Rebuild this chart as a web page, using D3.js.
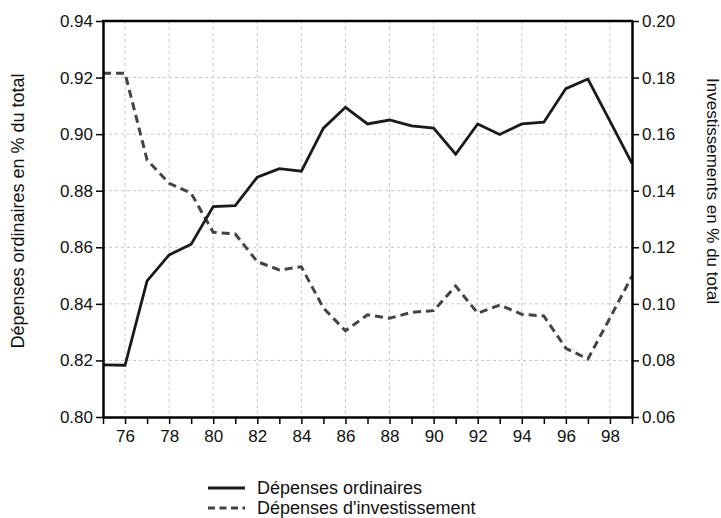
<!DOCTYPE html>
<html>
<head>
<meta charset="utf-8">
<script src="https://cdn.jsdelivr.net/npm/d3@7"></script>
<style>
  body { margin: 0; background: #fff; }
  svg { font-family: "Liberation Sans", Arial, sans-serif; }
</style>
</head>
<body>
<svg id="chart" width="721" height="518"></svg>
<script>
// years 1975..1999 (shown as two digits)
const years = d3.range(75, 100);

// Dépenses ordinaires (left axis)
const ordinaires = [0.8184, 0.8183, 0.8481, 0.8573, 0.8611, 0.8744, 0.8747, 0.8848, 0.8878, 0.8869,
  0.9021, 0.9095, 0.9036, 0.9050, 0.9029, 0.9021, 0.8929, 0.9036, 0.8999, 0.9036,
  0.9042, 0.9161, 0.9195, 0.9046, 0.8897];

// Dépenses d'investissement (right axis)
const investissement = [0.1815, 0.1815, 0.1509, 0.1426, 0.1391, 0.1253, 0.1247, 0.1149, 0.1120, 0.1131,
  0.0985, 0.0905, 0.0961, 0.0949, 0.0970, 0.0976, 0.1063, 0.0967, 0.0996, 0.0963,
  0.0957, 0.0843, 0.0805, 0.0950, 0.1098];

const leftTicks = [0.80, 0.82, 0.84, 0.86, 0.88, 0.90, 0.92, 0.94];
const rightTicks = [0.06, 0.08, 0.10, 0.12, 0.14, 0.16, 0.18, 0.20];
const gridYears = d3.range(76, 99, 2);
const legendLabels = ["Dépenses ordinaires", "Dépenses d'investissement"];

const svg = d3.select("#chart");
const plotL = 103, plotR = 632, plotT = 21, plotB = 417;

const x = d3.scaleLinear().domain([75, 99]).range([plotL, plotR]);
const yL = d3.scaleLinear().domain([0.80, 0.94]).range([plotB, plotT]);
const yR = d3.scaleLinear().domain([0.06, 0.20]).range([plotB, plotT]);

// grid
const grid = svg.append("g")
    .attr("stroke", "#c8c8c8").attr("stroke-width", 1).attr("stroke-dasharray", "3,3");
grid.selectAll(".gx").data(gridYears).enter().append("line")
    .attr("x1", d => x(d)).attr("x2", d => x(d))
    .attr("y1", plotT).attr("y2", plotB);
grid.selectAll(".gy").data(leftTicks.slice(1, -1)).enter().append("line")
    .attr("x1", plotL).attr("x2", plotR)
    .attr("y1", d => yL(d)).attr("y2", d => yL(d));

// lines
const lineOrd = d3.line().x((d, i) => x(years[i])).y(d => yL(d));
const lineInv = d3.line().x((d, i) => x(years[i])).y(d => yR(d));

svg.append("path").datum(investissement)
    .attr("d", lineInv).attr("fill", "none")
    .attr("stroke", "#444").attr("stroke-width", 3)
    .attr("stroke-dasharray", "8,5");
svg.append("path").datum(ordinaires)
    .attr("d", lineOrd).attr("fill", "none")
    .attr("stroke", "#1a1a1a").attr("stroke-width", 2.8)
    .attr("stroke-linejoin", "miter");

// axes
function styleAxis(g) {
  g.select(".domain").attr("stroke", "#000").attr("stroke-width", 2.5);
  g.selectAll(".tick line").attr("stroke", "#000").attr("stroke-width", 1.5);
  g.selectAll(".tick text").attr("fill", "#111").style("font-size", "17px");
}

svg.append("g").attr("transform", `translate(${plotL},0)`)
    .call(d3.axisLeft(yL).tickValues(leftTicks).tickFormat(d3.format(".2f"))
      .tickSize(7).tickSizeOuter(0).tickPadding(3))
    .call(styleAxis);

svg.append("g").attr("transform", `translate(${plotR},0)`)
    .call(d3.axisRight(yR).tickValues(rightTicks).tickFormat(d3.format(".2f"))
      .tickSize(7).tickSizeOuter(0).tickPadding(3))
    .call(styleAxis);

svg.append("g").attr("transform", `translate(0,${plotB})`)
    .call(d3.axisBottom(x).tickValues(years).tickFormat(d => d % 2 === 0 ? d : "")
      .tickSize(7).tickSizeOuter(0).tickPadding(6))
    .call(styleAxis);

// top frame
svg.append("line")
    .attr("x1", plotL - 1).attr("x2", plotR + 1)
    .attr("y1", plotT).attr("y2", plotT)
    .attr("stroke", "#000").attr("stroke-width", 2.5);

// axis titles
svg.append("text")
    .attr("transform", "translate(24,211) rotate(-90)")
    .attr("text-anchor", "middle").style("font-size", "18px").attr("fill", "#111")
    .text("Dépenses ordinaires en % du total");
svg.append("text")
    .attr("transform", "translate(707,191) rotate(90)")
    .attr("text-anchor", "middle").style("font-size", "17px").attr("fill", "#111")
    .text("Investissements en % du total");

// legend
const legend = svg.append("g").attr("transform", "translate(208,488)");
legendLabels.forEach((label, i) => {
  const row = legend.append("g").attr("transform", `translate(0,${i * 20})`);
  row.append("line").attr("x1", 0).attr("x2", 37).attr("y1", 0).attr("y2", 0)
      .attr("stroke", i === 0 ? "#1a1a1a" : "#444").attr("stroke-width", 3)
      .attr("stroke-dasharray", i === 0 ? null : "7,4.5");
  row.append("text").attr("x", 49).attr("y", 6)
      .style("font-size", "18px").attr("fill", "#111").text(label);
});
</script>
</body>
</html>
